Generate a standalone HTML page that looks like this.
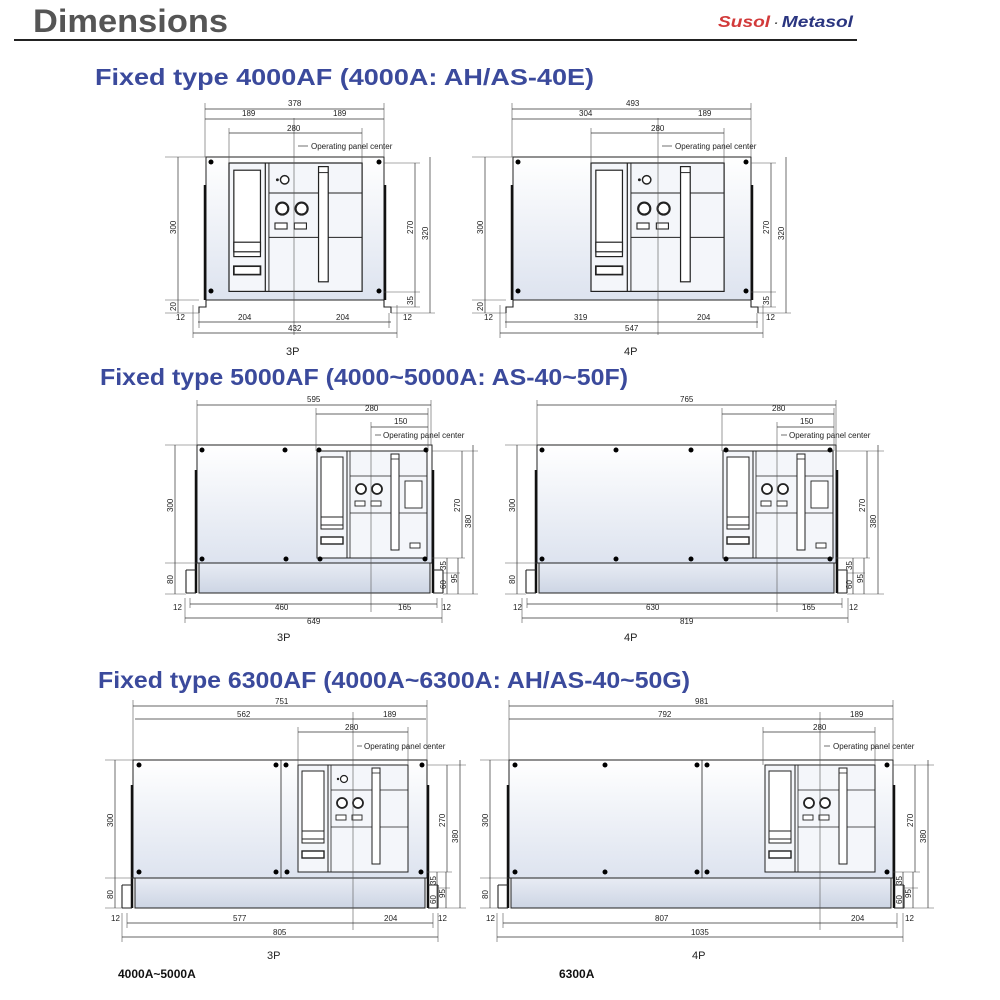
<!DOCTYPE html>
<html><head><meta charset="utf-8"><style>
html,body{margin:0;padding:0;background:#fff;width:1000px;height:1000px;overflow:hidden}
svg{display:block}
.t{font-family:"Liberation Sans",sans-serif}
.d{font-family:"Liberation Sans",sans-serif;font-size:8px;fill:#222}
.dl{stroke:#333;stroke-width:0.7;fill:none}
.ex{stroke:#555;stroke-width:0.6;fill:none}
.b{stroke:#222;stroke-width:1.1}
.ttl{font-family:"Liberation Sans",sans-serif;font-weight:bold;font-size:23px;fill:#3b4a9c}
</style></head><body>
<svg width="1000" height="1000" viewBox="0 0 1000 1000" xmlns="http://www.w3.org/2000/svg">
<defs>
<linearGradient id="g" x1="0" y1="0" x2="0" y2="1"><stop offset="0" stop-color="#ffffff"/><stop offset="1" stop-color="#dde3ef"/></linearGradient>
<linearGradient id="g2" x1="0" y1="0" x2="0" y2="1"><stop offset="0" stop-color="#e8ecf4"/><stop offset="1" stop-color="#cdd5e4"/></linearGradient>
<g id="pn">
<rect x="0" y="0" width="110" height="107" fill="#f4f6fa" stroke="#222" stroke-width="1"/>
<line x1="30" y1="0" x2="30" y2="107" stroke="#222" stroke-width="1"/>
<line x1="33" y1="0" x2="33" y2="107" stroke="#222" stroke-width="0.8"/>
<rect x="4" y="6" width="22" height="72" fill="#fff" stroke="#222" stroke-width="1"/>
<rect x="4" y="66" width="22" height="8" fill="#fff" stroke="#222" stroke-width="1"/>
<rect x="4" y="86" width="22" height="7" fill="#fff" stroke="#222" stroke-width="1.4"/>
<line x1="33" y1="25" x2="110" y2="25" stroke="#222" stroke-width="0.8"/>
<line x1="33" y1="62" x2="110" y2="62" stroke="#222" stroke-width="0.8"/>
<circle cx="44" cy="38" r="5" fill="#fff" stroke="#222" stroke-width="1.8"/>
<circle cx="60" cy="38" r="5" fill="#fff" stroke="#222" stroke-width="1.8"/>
<rect x="38" y="50" width="10" height="5" fill="#fff" stroke="#222" stroke-width="0.9"/>
<rect x="54" y="50" width="10" height="5" fill="#fff" stroke="#222" stroke-width="0.9"/>
<rect x="74" y="3" width="8" height="96" fill="#fff" stroke="#222" stroke-width="1"/>
<line x1="74" y1="8" x2="82" y2="8" stroke="#222" stroke-width="0.8"/>
</g>
<g id="pn1">
<use href="#pn"/>
<circle cx="46" cy="14" r="3.5" fill="#fff" stroke="#222" stroke-width="1.2"/>
<circle cx="40" cy="14" r="1.2" fill="#222"/>
</g>
<g id="pn2">
<use href="#pn"/>
<rect x="88" y="30" width="17" height="27" fill="#fff" stroke="#222" stroke-width="0.9"/>
<rect x="93" y="92" width="10" height="5" fill="#fff" stroke="#222" stroke-width="0.9"/>
</g>
</defs>

<!-- header -->
<text x="33" y="32" class="t" font-size="32" font-weight="bold" fill="#555" textLength="195" lengthAdjust="spacingAndGlyphs">Dimensions</text>
<line x1="14" y1="40" x2="857" y2="40" stroke="#222" stroke-width="2"/>
<text x="718" y="27" class="t" font-size="16" font-weight="bold" font-style="italic" fill="#d23a3a" textLength="135" lengthAdjust="spacingAndGlyphs">Susol<tspan fill="#555" font-size="11"> · </tspan><tspan fill="#2a3580">Metasol</tspan></text>

<text x="95" y="85" class="ttl" textLength="499" lengthAdjust="spacingAndGlyphs">Fixed type 4000AF (4000A: AH/AS-40E)</text>
<text x="100" y="385" class="ttl" textLength="528" lengthAdjust="spacingAndGlyphs">Fixed type 5000AF (4000~5000A: AS-40~50F)</text>
<text x="98" y="688" class="ttl" textLength="592" lengthAdjust="spacingAndGlyphs">Fixed type 6300AF (4000A~6300A: AH/AS-40~50G)</text>

<!-- ===== Row1 3P ===== -->
<g>
<rect x="206" y="157" width="178" height="143" fill="url(#g)" stroke="#222" stroke-width="1"/>
<path d="M206 300 L206 307 L199 307 L199 313 M384 300 L384 307 L391 307 L391 313" class="b" fill="none"/>
<path d="M205 185 L205 300 M385 185 L385 300" stroke="#111" stroke-width="2.5"/>
<use href="#pn1" transform="translate(229,163) scale(1.21,1.2)"/>
<circle cx="211" cy="162" r="2.5"/><circle cx="379" cy="162" r="2.5"/><circle cx="211" cy="291" r="2.5"/><circle cx="379" cy="291" r="2.5"/>
<path d="M205 103 V157 M384 103 V157 M229 128 V163 M362 128 V163 M193 305 V338 M397 305 V338 M199 313 V328 M389 313 V328" class="ex"/>
<line x1="294" y1="118" x2="294" y2="335" class="ex"/>
<path d="M205 109 H384 M205 119 H384 M229 133 H362 M198 322 H391 M193 333 H397" class="dl"/>
<text x="288" y="106" class="d">378</text><text x="242" y="116" class="d">189</text><text x="333" y="116" class="d">189</text><text x="287" y="131" class="d">280</text>
<line x1="298" y1="146" x2="308" y2="146" class="dl"/><text x="311" y="149" class="d">Operating panel center</text>
<path d="M165 157 H206 M165 300 H199 M165 313 H199 M384 163 H420 M384 292 H420 M391 307 H420 M391 313 H435" class="ex"/>
<path d="M178 157 V300 M178 300 V313 M415 163 V292 M415 292 V307 M430 157 V313" class="dl"/>
<text class="d" transform="translate(176,234) rotate(-90)">300</text>
<text class="d" transform="translate(176,311) rotate(-90)">20</text>
<text class="d" transform="translate(413,234) rotate(-90)">270</text>
<text class="d" transform="translate(428,240) rotate(-90)">320</text>
<text class="d" transform="translate(413,305) rotate(-90)">35</text>
<text x="176" y="320" class="d">12</text><text x="238" y="320" class="d">204</text><text x="336" y="320" class="d">204</text><text x="403" y="320" class="d">12</text><text x="288" y="331" class="d">432</text>
<text x="286" y="355" class="t" font-size="11" fill="#222">3P</text>
</g>

<!-- ===== Row1 4P ===== -->
<g>
<rect x="513" y="157" width="238" height="143" fill="url(#g)" stroke="#222" stroke-width="1"/>
<path d="M513 300 L513 307 L506 307 L506 313 M751 300 L751 307 L758 307 L758 313" class="b" fill="none"/>
<path d="M512 185 L512 300 M752 185 L752 300" stroke="#111" stroke-width="2.5"/>
<use href="#pn1" transform="translate(591,163) scale(1.21,1.2)"/>
<circle cx="518" cy="162" r="2.5"/><circle cx="746" cy="162" r="2.5"/><circle cx="518" cy="291" r="2.5"/><circle cx="746" cy="291" r="2.5"/>
<path d="M512 103 V157 M751 103 V157 M591 128 V163 M724 128 V163 M500 305 V338 M763 305 V338 M506 313 V328 M757 313 V328" class="ex"/>
<line x1="658" y1="118" x2="658" y2="335" class="ex"/>
<path d="M512 109 H751 M512 119 H751 M591 133 H724 M505 322 H758 M500 333 H763" class="dl"/>
<text x="626" y="106" class="d">493</text><text x="579" y="116" class="d">304</text><text x="698" y="116" class="d">189</text><text x="651" y="131" class="d">280</text>
<line x1="662" y1="146" x2="672" y2="146" class="dl"/><text x="675" y="149" class="d">Operating panel center</text>
<path d="M472 157 H513 M472 300 H506 M472 313 H506 M751 163 H776 M751 292 H776 M758 307 H776 M758 313 H791" class="ex"/>
<path d="M485 157 V300 M485 300 V313 M771 163 V292 M771 292 V307 M786 157 V313" class="dl"/>
<text class="d" transform="translate(483,234) rotate(-90)">300</text>
<text class="d" transform="translate(483,311) rotate(-90)">20</text>
<text class="d" transform="translate(769,234) rotate(-90)">270</text>
<text class="d" transform="translate(784,240) rotate(-90)">320</text>
<text class="d" transform="translate(769,305) rotate(-90)">35</text>
<text x="484" y="320" class="d">12</text><text x="574" y="320" class="d">319</text><text x="697" y="320" class="d">204</text><text x="766" y="320" class="d">12</text><text x="625" y="331" class="d">547</text>
<text x="624" y="355" class="t" font-size="11" fill="#222">4P</text>
</g>

<!-- ===== Row2 3P ===== -->
<g>
<rect x="197" y="445" width="235" height="118" fill="url(#g)" stroke="#222" stroke-width="1"/>
<rect x="199" y="563" width="231" height="30" fill="url(#g2)" stroke="#222" stroke-width="1"/>
<path d="M196 470 V593 M433 470 V593" stroke="#111" stroke-width="2.5"/>
<path d="M186 570 H196 M186 593 H196 M186 570 V593 M433 570 H443 M433 593 H443 M443 570 V593" class="b" fill="none"/>
<use href="#pn2" transform="translate(317,451)"/>
<circle cx="202" cy="450" r="2.5"/><circle cx="285" cy="450" r="2.5"/><circle cx="319" cy="450" r="2.5"/><circle cx="426" cy="450" r="2.5"/>
<circle cx="202" cy="559" r="2.5"/><circle cx="286" cy="559" r="2.5"/><circle cx="320" cy="559" r="2.5"/><circle cx="425" cy="559" r="2.5"/>
<path d="M197 400 V445 M431 400 V445 M316 408 V451 M428 408 V451 M185 598 V623 M442 598 V623 M190 598 V608 M437 598 V608" class="ex"/>
<line x1="371" y1="422" x2="371" y2="612" class="ex"/>
<path d="M197 405 H431 M316 414 H428 M371 427 H428 M190 604 H437 M185 618 H442" class="dl"/>
<text x="307" y="402" class="d">595</text><text x="365" y="411" class="d">280</text><text x="394" y="424" class="d">150</text>
<line x1="375" y1="435" x2="381" y2="435" class="dl"/><text x="383" y="438" class="d">Operating panel center</text>
<path d="M165 445 H197 M165 563 H197 M165 594 H186 M432 451 H478 M432 558 H465 M443 573 H460 M443 594 H478" class="ex"/>
<path d="M175 445 V563 M175 563 V594 M462 451 V558 M473 445 V594 M447 558 V573 M447 573 V594 M458 558 V594" class="dl"/>
<text class="d" transform="translate(173,512) rotate(-90)">300</text>
<text class="d" transform="translate(173,584) rotate(-90)">80</text>
<text class="d" transform="translate(460,512) rotate(-90)">270</text>
<text class="d" transform="translate(471,528) rotate(-90)">380</text>
<text class="d" transform="translate(446,570) rotate(-90)">35</text>
<text class="d" transform="translate(446,589) rotate(-90)">60</text>
<text class="d" transform="translate(457,583) rotate(-90)">95</text>
<text x="173" y="610" class="d">12</text><text x="275" y="610" class="d">460</text><text x="398" y="610" class="d">165</text><text x="442" y="610" class="d">12</text><text x="307" y="624" class="d">649</text>
<text x="277" y="641" class="t" font-size="11" fill="#222">3P</text>
</g>

<!-- ===== Row2 4P ===== -->
<g>
<rect x="537" y="445" width="299" height="118" fill="url(#g)" stroke="#222" stroke-width="1"/>
<rect x="539" y="563" width="295" height="30" fill="url(#g2)" stroke="#222" stroke-width="1"/>
<path d="M536 470 V593 M837 470 V593" stroke="#111" stroke-width="2.5"/>
<path d="M526 570 H536 M526 593 H536 M526 570 V593 M837 570 H847 M837 593 H847 M847 570 V593" class="b" fill="none"/>
<use href="#pn2" transform="translate(723,451)"/>
<circle cx="542" cy="450" r="2.5"/><circle cx="616" cy="450" r="2.5"/><circle cx="691" cy="450" r="2.5"/><circle cx="726" cy="450" r="2.5"/><circle cx="830" cy="450" r="2.5"/>
<circle cx="542" cy="559" r="2.5"/><circle cx="616" cy="559" r="2.5"/><circle cx="691" cy="559" r="2.5"/><circle cx="726" cy="559" r="2.5"/><circle cx="830" cy="559" r="2.5"/>
<path d="M537 400 V445 M836 400 V445 M722 408 V451 M834 408 V451 M522 598 V623 M848 598 V623 M527 598 V608 M842 598 V608" class="ex"/>
<line x1="777" y1="422" x2="777" y2="612" class="ex"/>
<path d="M537 405 H836 M722 414 H834 M777 427 H834 M527 604 H842 M522 618 H848" class="dl"/>
<text x="680" y="402" class="d">765</text><text x="772" y="411" class="d">280</text><text x="800" y="424" class="d">150</text>
<line x1="781" y1="435" x2="787" y2="435" class="dl"/><text x="789" y="438" class="d">Operating panel center</text>
<path d="M505 445 H537 M505 563 H537 M505 594 H526 M836 451 H884 M836 558 H870 M847 573 H865 M847 594 H884" class="ex"/>
<path d="M517 445 V563 M517 563 V594 M867 451 V558 M878 445 V594 M853 558 V573 M853 573 V594 M864 558 V594" class="dl"/>
<text class="d" transform="translate(515,512) rotate(-90)">300</text>
<text class="d" transform="translate(515,584) rotate(-90)">80</text>
<text class="d" transform="translate(865,512) rotate(-90)">270</text>
<text class="d" transform="translate(876,528) rotate(-90)">380</text>
<text class="d" transform="translate(852,570) rotate(-90)">35</text>
<text class="d" transform="translate(852,589) rotate(-90)">60</text>
<text class="d" transform="translate(863,583) rotate(-90)">95</text>
<text x="513" y="610" class="d">12</text><text x="646" y="610" class="d">630</text><text x="802" y="610" class="d">165</text><text x="849" y="610" class="d">12</text><text x="680" y="624" class="d">819</text>
<text x="624" y="641" class="t" font-size="11" fill="#222">4P</text>
</g>

<!-- ===== Row3 3P ===== -->
<g>
<rect x="133" y="760" width="294" height="118" fill="url(#g)" stroke="#222" stroke-width="1"/>
<rect x="135" y="878" width="290" height="30" fill="url(#g2)" stroke="#222" stroke-width="1"/>
<path d="M132 785 V908 M428 785 V908" stroke="#111" stroke-width="2.5"/>
<path d="M122 885 H132 M122 908 H132 M122 885 V908 M428 885 H438 M428 908 H438 M438 885 V908" class="b" fill="none"/>
<line x1="281" y1="760" x2="281" y2="878" stroke="#222" stroke-width="0.8"/>
<use href="#pn1" transform="translate(298,765)"/>
<circle cx="139" cy="765" r="2.5"/><circle cx="276" cy="765" r="2.5"/><circle cx="286" cy="765" r="2.5"/><circle cx="422" cy="765" r="2.5"/>
<circle cx="139" cy="872" r="2.5"/><circle cx="276" cy="872" r="2.5"/><circle cx="287" cy="872" r="2.5"/><circle cx="421" cy="872" r="2.5"/>
<path d="M133 700 V760 M427 700 V760 M298 727 V765 M408 727 V765 M122 913 V942 M438 913 V942 M127 913 V928 M433 913 V928" class="ex"/>
<line x1="353" y1="712" x2="353" y2="930" class="ex"/>
<path d="M133 706 H427 M135 719 H426 M298 732 H408 M127 923 H433 M122 937 H438" class="dl"/>
<text x="275" y="704" class="d">751</text><text x="237" y="717" class="d">562</text><text x="383" y="717" class="d">189</text><text x="345" y="730" class="d">280</text>
<line x1="357" y1="746" x2="362" y2="746" class="dl"/><text x="364" y="749" class="d">Operating panel center</text>
<path d="M105 760 H133 M105 878 H133 M105 908 H122 M427 765 H466 M427 872 H452 M438 888 H450 M438 908 H466" class="ex"/>
<path d="M115 760 V878 M115 878 V908 M447 765 V872 M460 760 V908 M437 872 V888 M437 888 V908 M446 872 V908" class="dl"/>
<text class="d" transform="translate(113,827) rotate(-90)">300</text>
<text class="d" transform="translate(113,899) rotate(-90)">80</text>
<text class="d" transform="translate(445,827) rotate(-90)">270</text>
<text class="d" transform="translate(458,843) rotate(-90)">380</text>
<text class="d" transform="translate(436,885) rotate(-90)">35</text>
<text class="d" transform="translate(436,904) rotate(-90)">60</text>
<text class="d" transform="translate(445,898) rotate(-90)">95</text>
<text x="111" y="921" class="d">12</text><text x="233" y="921" class="d">577</text><text x="384" y="921" class="d">204</text><text x="438" y="921" class="d">12</text><text x="273" y="935" class="d">805</text>
<text x="267" y="959" class="t" font-size="11" fill="#222">3P</text>
</g>

<!-- ===== Row3 6300A ===== -->
<g>
<rect x="509" y="760" width="384" height="118" fill="url(#g)" stroke="#222" stroke-width="1"/>
<rect x="511" y="878" width="380" height="30" fill="url(#g2)" stroke="#222" stroke-width="1"/>
<path d="M508 785 V908 M894 785 V908" stroke="#111" stroke-width="2.5"/>
<path d="M498 885 H508 M498 908 H508 M498 885 V908 M894 885 H904 M894 908 H904 M904 885 V908" class="b" fill="none"/>
<line x1="702" y1="760" x2="702" y2="878" stroke="#222" stroke-width="0.8"/>
<use href="#pn" transform="translate(765,765)"/>
<circle cx="515" cy="765" r="2.5"/><circle cx="605" cy="765" r="2.5"/><circle cx="697" cy="765" r="2.5"/><circle cx="707" cy="765" r="2.5"/><circle cx="887" cy="765" r="2.5"/>
<circle cx="515" cy="872" r="2.5"/><circle cx="605" cy="872" r="2.5"/><circle cx="697" cy="872" r="2.5"/><circle cx="707" cy="872" r="2.5"/><circle cx="887" cy="872" r="2.5"/>
<path d="M509 700 V760 M893 700 V760 M763 727 V765 M875 727 V765 M497 913 V942 M903 913 V942 M503 913 V928 M897 913 V928" class="ex"/>
<line x1="820" y1="712" x2="820" y2="930" class="ex"/>
<path d="M509 706 H893 M509 719 H893 M763 732 H875 M503 923 H897 M497 937 H903" class="dl"/>
<text x="695" y="704" class="d">981</text><text x="658" y="717" class="d">792</text><text x="850" y="717" class="d">189</text><text x="813" y="730" class="d">280</text>
<line x1="824" y1="746" x2="830" y2="746" class="dl"/><text x="833" y="749" class="d">Operating panel center</text>
<path d="M480 760 H509 M480 878 H509 M480 908 H498 M893 765 H934 M893 872 H920 M904 888 H918 M904 908 H934" class="ex"/>
<path d="M490 760 V878 M490 878 V908 M915 765 V872 M928 760 V908 M903 872 V888 M903 888 V908 M913 872 V908" class="dl"/>
<text class="d" transform="translate(488,827) rotate(-90)">300</text>
<text class="d" transform="translate(488,899) rotate(-90)">80</text>
<text class="d" transform="translate(913,827) rotate(-90)">270</text>
<text class="d" transform="translate(926,843) rotate(-90)">380</text>
<text class="d" transform="translate(902,885) rotate(-90)">35</text>
<text class="d" transform="translate(902,904) rotate(-90)">60</text>
<text class="d" transform="translate(911,898) rotate(-90)">95</text>
<text x="486" y="921" class="d">12</text><text x="655" y="921" class="d">807</text><text x="851" y="921" class="d">204</text><text x="905" y="921" class="d">12</text><text x="691" y="935" class="d">1035</text>
<text x="692" y="959" class="t" font-size="11" fill="#222">4P</text>
</g>

<text x="118" y="978" class="t" font-size="12" font-weight="bold" fill="#111">4000A~5000A</text>
<text x="559" y="978" class="t" font-size="12" font-weight="bold" fill="#111">6300A</text>
</svg>
</body></html>
